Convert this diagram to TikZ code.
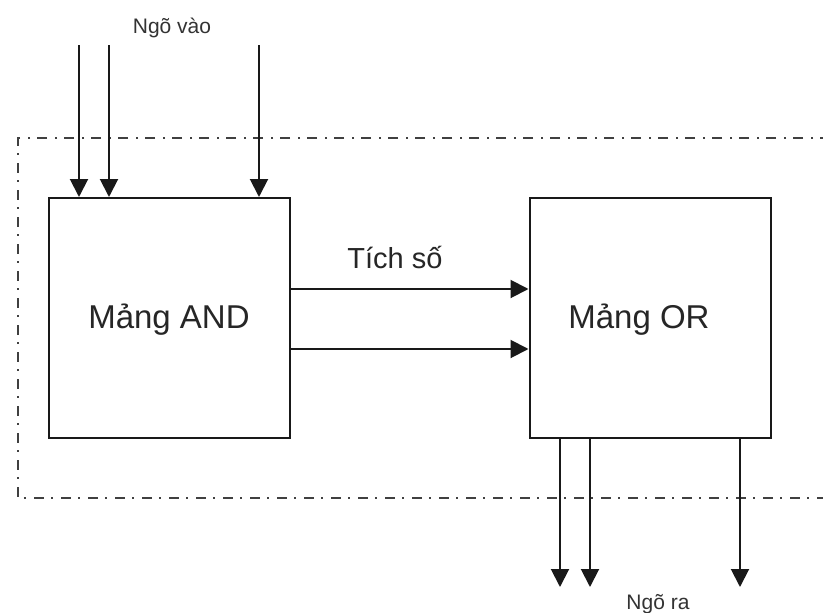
\documentclass[tikz,border=0pt]{standalone}
\usepackage{fontspec}
\setmainfont{Liberation Sans}
\usetikzlibrary{arrows.meta}
\begin{document}
\begin{tikzpicture}[x=1pt,y=-1pt,
  blk/.style={draw=black!90, line width=2pt, minimum width=241pt, minimum height=240pt, inner sep=0pt},
  big/.style={font=\fontsize{33}{36}\selectfont, text=black!85, inner sep=0pt},
  arr/.style={line width=2pt, draw=black!90, -{Triangle[length=18pt,width=18pt]}},
  frame/.style={line width=2pt, draw=black!75, dash pattern=on 10pt off 7pt on 2pt off 8pt},
  small/.style={font=\fontsize{21}{24}\selectfont, text=black!80, inner sep=0pt},
  mid/.style={font=\fontsize{29}{32}\selectfont, text=black!85, inner sep=0pt}]
\useasboundingbox (0,0) rectangle (823,613);
\fill[white] (0,0) rectangle (823,613);
% frame
\coordinate (ft) at (830,138);
\coordinate (fl) at (18,138);
\coordinate (fb) at (18,498);
\coordinate (fr) at (830,498);
\draw[frame] (ft) -- (fl) -- (fb) -- (fr);
% blocks
\node[blk] (and) at (169.5,318) {};
\node[blk] (or) at (650,318) {};
\node[big, anchor=base] (andl) at (169,328) {Mảng AND};
\node[big, anchor=base] (orl) at (639,328) {Mảng OR};
% inputs
\coordinate (i1) at (79,45);
\coordinate (i2) at (109,45);
\coordinate (i3) at (259,45);
\draw[arr] (i1) -- (i1 |- and.north);
\draw[arr] (i2) -- (i2 |- and.north);
\draw[arr] (i3) -- (i3 |- and.north);
\node[small, anchor=base] (lin) at (172,34) {Ngõ vào};
% products
\coordinate (p1) at (290,289);
\coordinate (p2) at (290,349);
\draw[arr] (p1) -- (p1 -| or.west);
\draw[arr] (p2) -- (p2 -| or.west);
\node[mid, anchor=base] (lp) at (395,268) {Tích số};
% outputs
\coordinate (o1) at (560,587);
\coordinate (o2) at (590,587);
\coordinate (o3) at (740,587);
\draw[arr] (o1 |- or.south) -- (o1);
\draw[arr] (o2 |- or.south) -- (o2);
\draw[arr] (o3 |- or.south) -- (o3);
\node[small, anchor=base] (lout) at (658,609) {Ngõ ra};
\end{tikzpicture}
\end{document}
